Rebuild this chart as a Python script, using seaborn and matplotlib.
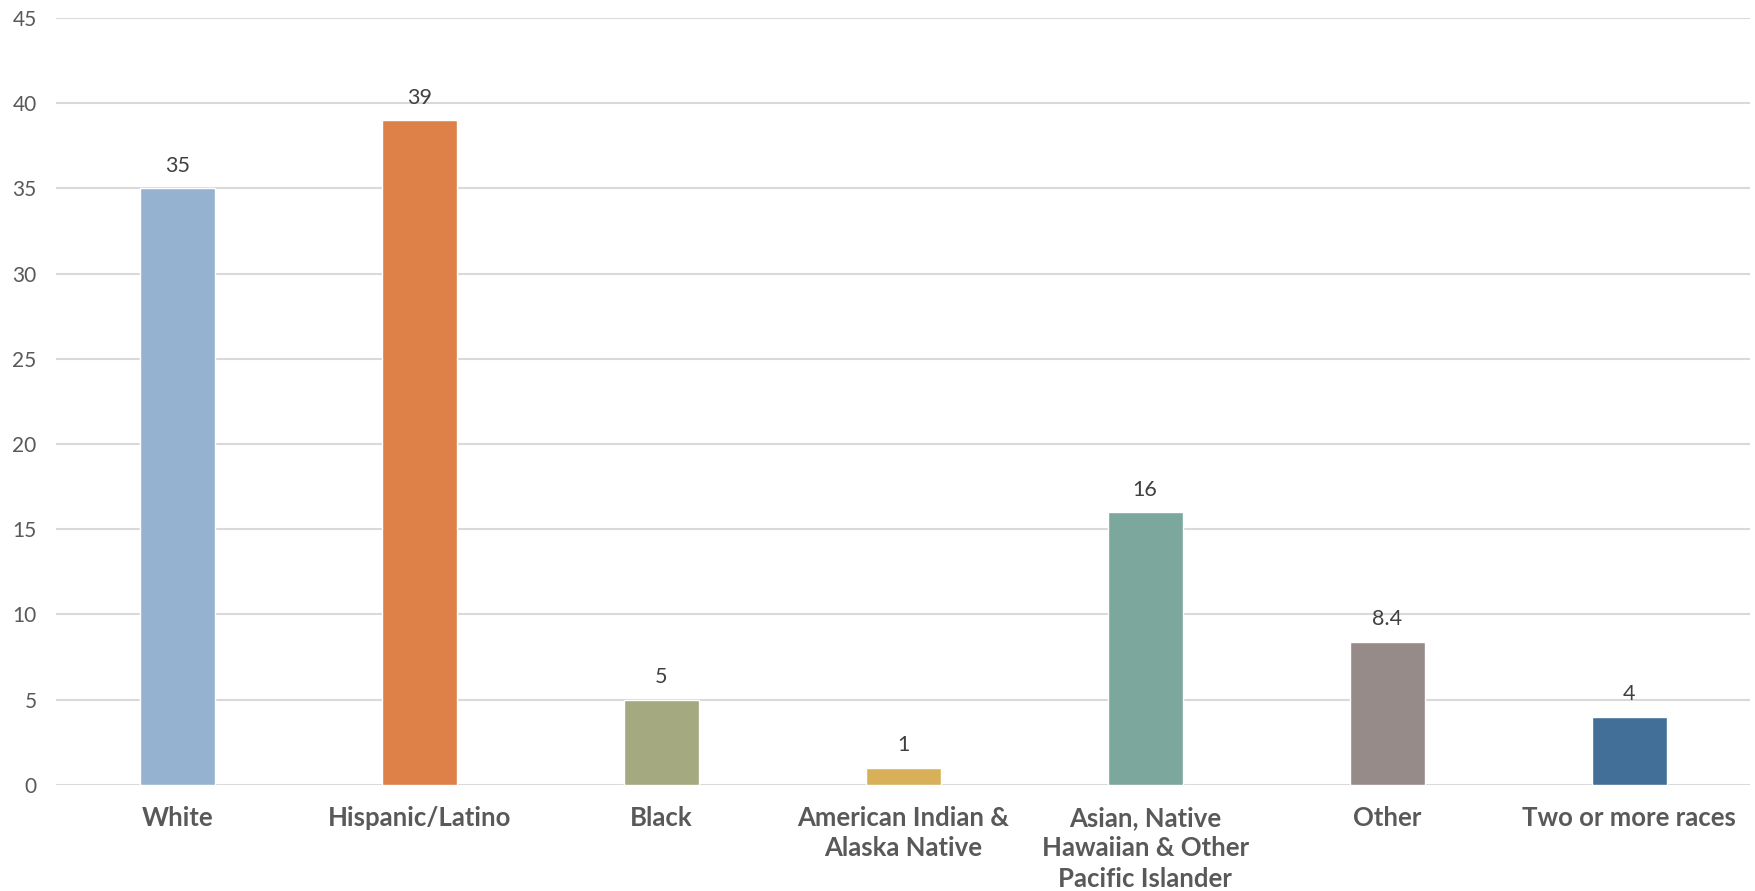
import matplotlib
matplotlib.use("Agg")
import matplotlib.pyplot as plt
import seaborn as sns
import pandas as pd

categories = ["White", "Hispanic/Latino", "Black", "American Indian &\nAlaska Native",
              "Asian, Native\nHawaiian & Other\nPacific Islander", "Other", "Two or more races"]
values = [35, 39, 5, 1, 16, 8.4, 4]
labels = ["35", "39", "5", "1", "16", "8.4", "4"]
colors = ["#95B3D0", "#DE8149", "#A4A97F", "#D8B05A", "#7BA79D", "#968B88", "#426F98"]
yticks = [0, 5, 10, 15, 20, 25, 30, 35, 40, 45]

sns.set_theme(style="white")
plt.rcParams['font.family'] = ['Lato', 'DejaVu Sans']

df = pd.DataFrame({"cat": categories, "val": values})
fig = plt.figure(figsize=(17.56, 8.91), dpi=100)
ax = fig.add_axes([0.032, 0.119, 0.9646, 0.861])
sns.barplot(data=df, x="cat", y="val", hue="cat", palette=colors, width=0.31,
            legend=False, ax=ax, saturation=1, zorder=3)

ax.set_ylim(0, 45)
ax.set_xlim(-0.5, len(categories) - 0.5)
ax.set_yticks(yticks)
ax.set_yticklabels([str(t) for t in yticks], fontsize=15, color="#595959")
ax.grid(axis="y", color="#D9D9D9", linewidth=1.5, zorder=0)
ax.set_axisbelow(True)
for s in ax.spines.values():
    s.set_visible(False)
ax.axhline(0, color="#D9D9D9", linewidth=1.8, zorder=1)
ax.tick_params(axis="both", length=0)
ax.tick_params(axis="y", pad=14)
ax.tick_params(axis="x", pad=15)
for t in ax.get_xticklabels():
    t.set_fontsize(18.5)
    t.set_fontweight("bold")
    t.set_color("#595959")
    t.set_linespacing(1.32)
    t.set_verticalalignment("top")
ax.set_xlabel("")
ax.set_ylabel("")

for cont, lab in zip(ax.containers, labels):
    ax.bar_label(cont, labels=[lab], padding=9, fontsize=15.5, color="#404040")

fig.savefig("out.png", dpi=100)
